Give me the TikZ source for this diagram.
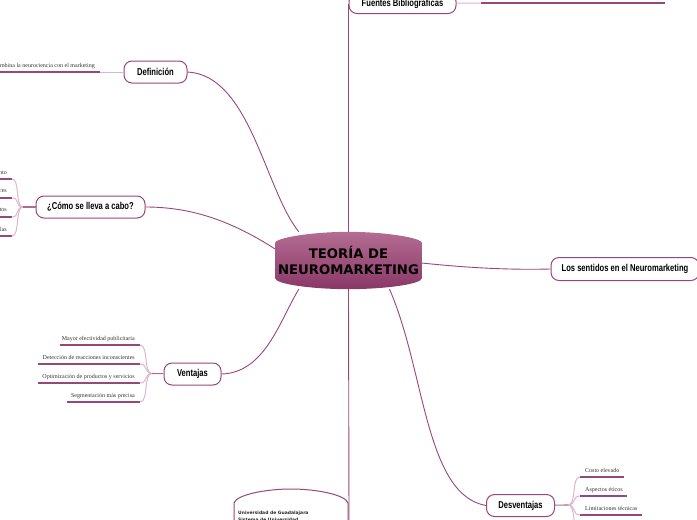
\documentclass[tikz,border=0pt]{standalone}
\usepackage{fontspec}
\usepackage{tikz}
\usetikzlibrary{backgrounds,shadings}
\setmainfont{Liberation Serif}
\newfontfamily\topicfont[FakeStretch=0.76]{Liberation Sans}
\newfontfamily\rootfont{DejaVu Sans}
\definecolor{vino}{HTML}{97487A}
\definecolor{vinolight}{HTML}{DDB6CB}
\definecolor{vinotop}{HTML}{B36C92}
\definecolor{vinobot}{HTML}{8A3866}
\pgfdeclarelayer{background}
\pgfsetlayers{background,main}
\tikzset{
  topic/.style={draw=vino,fill=white,rounded corners=8pt,line width=1pt,minimum height=22pt,inner sep=0pt,font=\topicfont\bfseries\fontsize{10}{11}\selectfont},
  leaftext/.style={inner sep=0pt,font=\fontsize{6}{8}\selectfont,text=black!80},
  leafline/.style={draw=vino,line width=1.5pt},
  twig/.style={draw=vinolight,line width=1pt},
  stub/.style={draw=vino!80,line width=1.1pt},
  branch/.style={draw=vino,line width=.9pt}
}
\begin{document}
\begin{tikzpicture}[x=1pt,y=-1pt]
\useasboundingbox (0,0) rectangle (697,520);
\clip (0,0) rectangle (697,520);
% centre
\node[align=center,inner sep=0pt,minimum width=147pt,minimum height=57pt,font=\rootfont\bfseries\fontsize{13.2}{16}\selectfont] (root) at (348.5,260.5) {TEOR\'IA DE\\NEUROMARKETING};
% topics
\node[topic,minimum width=63pt] (defi) at (155.5,72) {Definici\'on};
\node[topic,minimum width=109pt] (como) at (90.5,207) {\textquestiondown C\'omo se lleva a cabo?};
\node[topic,minimum width=57pt] (vent) at (192.5,374) {Ventajas};
\node[topic,minimum width=68pt] (desv) at (520.5,505.5) {Desventajas};
\node[topic,minimum width=148pt,minimum height=23pt] (sent) at (625,269) {Los sentidos en el Neuromarketing};
\node[topic,minimum width=107pt,minimum height=20pt] (fuen) at (402.5,3.5) {Fuentes Bibliogr\'aficas};
% junctions
\coordinate (defij) at (100,72);
\coordinate (comoj) at (23,207);
\coordinate (ventj) at (152,373.5);
\coordinate (desvj) at (568,505);
\coordinate (fuenj) at (481,3);
\coordinate (bottomj) at (349,520);
% leaves
\node[leaftext,anchor=base east] (d1) at (95,67) {combina la neurociencia con el marketing};
\node[leaftext,anchor=base east] (c1) at (7,174) {nto};
\node[leaftext,anchor=base east] (c2) at (7,192) {ces};
\node[leaftext,anchor=base east] (c3) at (7,211) {tos};
\node[leaftext,anchor=base east] (c4) at (7,231) {las};
\node[leaftext,anchor=base east] (v1) at (135,340) {Mayor efectividad publicitaria};
\node[leaftext,anchor=base east] (v2) at (135,359) {Detecci\'on de reacciones inconscientes};
\node[leaftext,anchor=base east] (v3) at (135,378) {Optimizaci\'on de productos y servicios};
\node[leaftext,anchor=base east] (v4) at (135,397) {Segmentaci\'on m\'as precisa};
\node[leaftext,anchor=base west] (s1) at (585,472) {Costo elevado};
\node[leaftext,anchor=base west] (s2) at (585,491) {Aspectos \'eticos};
\node[leaftext,anchor=base west] (s3) at (585,510) {Limitaciones t\'ecnicas};
\draw[leafline] (0,72) -- (defij);
\draw[leafline] (0,179) -- (12,179) coordinate (c1e);
\draw[leafline] (0,198) -- (12,198) coordinate (c2e);
\draw[leafline] (0,217) -- (12,217) coordinate (c3e);
\draw[leafline] (0,236) -- (12,236) coordinate (c4e);
\draw[leafline] (60,345) -- (140,345) coordinate (v1e);
\draw[leafline] (38,364) -- (140,364) coordinate (v2e);
\draw[leafline] (38,383) -- (140,383) coordinate (v3e);
\draw[leafline] (67,402) -- (140,402) coordinate (v4e);
\draw[leafline] (580,477) coordinate (s1e) -- (624,477);
\draw[leafline] (580,496) coordinate (s2e) -- (627,496);
\draw[leafline] (580,515) coordinate (s3e) -- (642,515);
\draw[leafline] (fuenj) -- (665,3);
\coordinate (s4e) at (581,534);
% twigs
\draw[twig] (defij) -- (defi);
\draw[twig] (fuen) -- (fuenj);
\draw[twig] (c1e) .. controls (20,179) and (15,207) .. (comoj);
\draw[twig] (c2e) .. controls (20,198) and (15,207) .. (comoj);
\draw[twig] (c3e) .. controls (20,217) and (15,207) .. (comoj);
\draw[twig] (c4e) .. controls (20,236) and (15,207) .. (comoj);
\draw[twig] (v1e) .. controls (149,345) and (143,373.5) .. (ventj);
\draw[twig] (v2e) .. controls (148,364) and (144,373.5) .. (ventj);
\draw[twig] (v3e) .. controls (148,383) and (144,373.5) .. (ventj);
\draw[twig] (v4e) .. controls (149,402) and (143,373.5) .. (ventj);
\draw[twig] (s1e) .. controls (571,477) and (577,505) .. (desvj);
\draw[twig] (s2e) .. controls (572,496) and (576,505) .. (desvj);
\draw[twig] (s3e) .. controls (572,515) and (576,505) .. (desvj);
\draw[twig] (s4e) .. controls (571,534) and (577,505) .. (desvj);
\draw[stub] (comoj) -- (como);
\draw[stub] (ventj) -- (vent);
\draw[stub] (desvj) -- (desv);
% box at the bottom
\draw[draw=vino,line width=1pt,fill=white] (234,530) -- (234,503) .. controls (236,495) and (265,489) .. (291,489) .. controls (317,489) and (346,495) .. (348,503) -- (348,530);
\node[inner sep=0pt,anchor=base west,font=\rootfont\bfseries\fontsize{4.5}{7}\selectfont,text=black!85] (uni) at (238,514) {Universidad de Guadalajara};
\node[inner sep=0pt,anchor=base west,font=\rootfont\bfseries\fontsize{4.5}{7}\selectfont,text=black!85] (sis) at (238,521.5) {Sistema de Universidad};
% connectors to the centre
\begin{pgfonlayer}{background}
\draw[branch] (root.150) .. controls (265,190) and (250,75) .. (defi.east);
\draw[branch] (root.171) .. controls (230,220) and (190,207) .. (como.east);
\draw[branch] (root.210) .. controls (280,320) and (265,373) .. (vent.east);
\draw[branch] (root.325) .. controls (425,370) and (425,495) .. (desv.west);
\draw[branch] (root.358) .. controls (470,268) and (510,270) .. (sent.west);
\draw[branch] (root.north) -- (fuen.west);
\draw[branch] (root.south) -- (bottomj);
\shade[top color=vinotop,bottom color=vinobot,draw=none] (275,243) .. controls (275,238) and (310,232) .. (root.north) .. controls (387,232) and (422,238) .. (422,243) -- (422,278) .. controls (422,284) and (387,289) .. (root.south) .. controls (310,289) and (275,284) .. (275,278) -- cycle;
\end{pgfonlayer}
\end{tikzpicture}
\end{document}
